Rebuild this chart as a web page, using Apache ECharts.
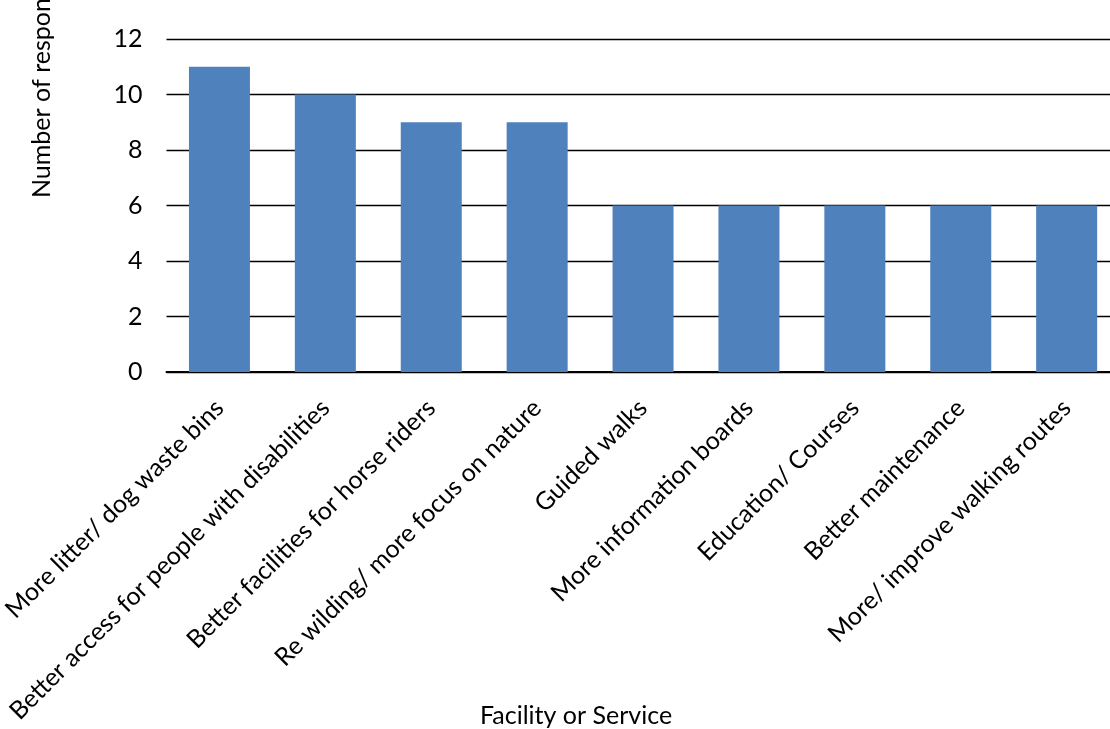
<!DOCTYPE html>
<html>
<head>
<meta charset="utf-8">
<script src="https://cdn.jsdelivr.net/npm/echarts@6/dist/echarts.min.js"></script>
<style>
  html, body { margin: 0; padding: 0; background: #fff; }
  #chart { width: 1110px; height: 729px; }
</style>
</head>
<body>
<div id="chart"></div>
<script>
// Requested improvements, by number of respondents
const categories = [
  'More litter/ dog waste bins',
  'Better access for people with disabilities',
  'Better facilities for horse riders',
  'Re wilding/ more focus on nature',
  'Guided walks',
  'More information boards',
  'Education/ Courses',
  'Better maintenance',
  'More/ improve walking routes'
];
const responses = [11, 10, 9, 9, 6, 6, 6, 6, 6];
const yTicks = { min: 0, max: 12, step: 2 };
const xTitle = 'Facility or Service';
const yTitle = 'Number of respondents';

const FONT = 'Lato, "Open Sans", sans-serif';
const FS = 25;

const chart = echarts.init(document.getElementById('chart'), null, { renderer: 'canvas' });
chart.setOption({
  animation: false,
  backgroundColor: '#ffffff',
  grid: {
    left: 166.5, right: -9.6, top: 39, bottom: 357,
    containLabel: false, outerBoundsMode: 'none'
  },
  xAxis: {
    type: 'category',
    data: categories,
    axisLine: { show: true, lineStyle: { color: '#000', width: 2 } },
    axisTick: { show: false },
    axisLabel: {
      interval: 0, rotate: 45, margin: 32,
      color: '#000', fontFamily: FONT, fontSize: FS
    }
  },
  yAxis: {
    type: 'value',
    min: yTicks.min, max: yTicks.max, interval: yTicks.step,
    axisLine: { show: false },
    axisTick: { show: false },
    splitLine: { show: true, lineStyle: { color: '#000', width: 1.4 } },
    axisLabel: { margin: 24, color: '#000', fontFamily: FONT, fontSize: FS }
  },
  series: [{
    type: 'bar',
    data: responses,
    barWidth: 61,
    itemStyle: { color: '#4F81BD' }
  }],
  graphic: [
    {
      type: 'text', x: 42, y: 198, rotation: Math.PI / 2,
      style: { text: yTitle, fill: '#000', font: FS + 'px ' + FONT, align: 'left', verticalAlign: 'middle' }
    },
    {
      type: 'text', x: 576, y: 716,
      style: { text: xTitle, fill: '#000', font: FS + 'px ' + FONT, align: 'center', verticalAlign: 'middle' }
    }
  ]
});
</script>
</body>
</html>
